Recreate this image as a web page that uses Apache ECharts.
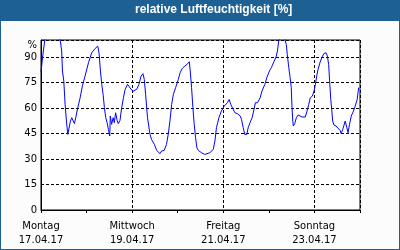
<!DOCTYPE html>
<html>
<head>
<meta charset="utf-8">
<script src="https://cdn.jsdelivr.net/npm/echarts@6/dist/echarts.min.js"></script>
<style>
  html, body { margin: 0; padding: 0; background: #fbfcfb; }
  #main { width: 398px; height: 248px; border: 1px solid #1c6094; }
</style>
</head>
<body>
<div id="main"></div>
<script>
// hours since Mon 17.04.17 00:00
var hours = [0, 0.8, 2.1, 6.0, 10.0, 10.9, 11.3, 12.0, 12.7, 13.4, 14.1, 15.1, 15.5, 16.2, 16.9, 17.6, 18.3, 19.3, 20.6, 21.8,
  23.2, 25.0, 26.7, 28.5, 29.9, 30.6, 31.3, 32.0, 32.7, 33.4, 34.1, 34.8, 35.5, 36.2, 36.5, 37.2, 38.0, 38.6, 39.3, 40.1,
  40.7, 41.6, 42.5, 43.4, 44.3, 45.6, 46.5, 47.4, 48.6, 49.5, 50.4, 51.6, 52.7, 53.7, 54.4, 55.1, 56.1, 57.4, 58.2, 59.7,
  60.9, 62.7, 63.5, 64.9, 66.1, 67.0, 67.9, 68.8, 69.7, 70.9, 72.3, 73.3, 74.4, 75.8, 77.2, 78.1, 78.6, 79.3, 80.0, 80.7,
  81.4, 82.1, 82.8, 84.5, 86.3, 87.2, 88.9, 90.7, 91.6, 92.4, 93.7, 95.0, 96.5, 98.2, 99.1, 100.0, 101.2, 102.1, 103.5, 104.9,
  105.6, 106.5, 107.3, 108.4, 109.1, 110.1, 111.2, 112.2, 112.9, 114.0, 115.4, 116.4, 117.9, 118.9, 120.3, 121.3, 122.8, 123.8, 124.5, 125.2,
  126.4, 128.0, 129.2, 129.7, 130.5, 131.2, 131.8, 132.2, 132.6, 132.9, 133.6, 134.5, 135.4, 136.4, 137.5, 138.5, 139.2, 140.1, 141.0, 141.8,
  142.9, 143.8, 144.5, 145.2, 145.9, 146.9, 148.0, 149.0, 150.1, 150.8, 151.5, 152.0, 152.6, 153.1, 153.6, 154.3, 155.4, 156.4, 157.5, 158.1,
  158.9, 159.6, 160.2, 161.0, 161.7, 162.5, 163.4, 164.4, 165.5, 166.5, 167.3];
var humidity = [81, 89.6, 101, 105, 101, 93.5, 81.8, 75.9, 62, 52.3, 44.5, 43.9, 52.3, 54.3, 55.3, 50.8, 54.3, 59.8, 66, 73,
  78.8, 86.6, 92.5, 95, 96.4, 92, 81.8, 73.9, 68, 60.2, 54.3, 51.4, 47.4, 43.5, 55.3, 50.4, 54.3, 51.4, 57.2, 52.7,
  50.8, 52.7, 60.2, 66, 71, 73.9, 73.5, 71, 70, 69, 71, 73.9, 78.8, 80.2, 76.8, 68, 54.3, 44.5, 41.5, 38.6,
  35.1, 33.1, 34.7, 35.1, 38.6, 44.5, 52.3, 62, 68, 72, 76.8, 80.8, 83.3, 84.7, 86, 87.2, 81.8, 72, 60.2, 50.4,
  42.5, 36.6, 35.1, 33.7, 32.7, 31.8, 33.7, 35.6, 40.6, 48.4, 54.3, 58.2, 61.2, 63.1, 65, 62, 59.2, 57.2, 56.6, 55.3,
  53.3, 48.4, 44.5, 44.5, 48.4, 51.4, 54.3, 59.2, 63.1, 63.1, 66, 70, 73.9, 77.8, 81.8, 83.7, 87.6, 90, 93.5, 99.4,
  102, 102, 97.4, 91.5, 83.7, 77.8, 72, 60.2, 52.3, 49.4, 50.8, 54.3, 55.9, 55.9, 54.7, 53.9, 54.7, 58.2, 62, 66,
  67, 70, 73.9, 78.8, 82.7, 86.6, 90, 92, 92.5, 90.6, 85.6, 75.9, 65, 59.2, 52.3, 50, 49.4, 48.4, 46.8, 44.9,
  47.4, 50, 52.3, 48.8, 45.5, 50.4, 55.3, 57.8, 61.2, 65, 72];
var dayNames = ['Montag', 'Dienstag', 'Mittwoch', 'Donnerstag', 'Freitag', 'Samstag', 'Sonntag', 'Montag'];
var dayDates = ['17.04.17', '18.04.17', '19.04.17', '20.04.17', '21.04.17', '22.04.17', '23.04.17', '24.04.17'];
var titleText = 'relative Luftfeuchtigkeit [%]';

var points = hours.map(function (h, i) { return [h, humidity[i]]; });
var dash = { color: '#000', type: [3, 2], width: 1 };
var font = 'DejaVu Sans';

var chart = echarts.init(document.getElementById('main'));
chart.setOption({
  animation: false,
  backgroundColor: '#fbfcfb',
  graphic: [{
    type: 'rect', left: 0, top: 0, z: 0,
    shape: { width: 400, height: 20 },
    style: { fill: '#1c6094' }
  }],
  title: {
    text: titleText, left: 134, top: 3, padding: 0,
    textStyle: { color: '#fff', fontFamily: 'Liberation Sans', fontWeight: 'bold', fontSize: 12 }
  },
  grid: { left: 40, right: 39, top: 39, bottom: 39, show: true, borderColor: '#000', borderWidth: 1, backgroundColor: '#fff' },
  xAxis: [{
    type: 'value', min: 0, max: 168, interval: 24,
    axisLine: { lineStyle: { color: '#000' } },
    axisTick: { length: 3, lineStyle: { color: '#000' } },
    splitLine: { show: false },
    axisLabel: {
      color: '#000', fontFamily: font, fontSize: 10, margin: 9, lineHeight: 14,
      formatter: function (v) { return v % 48 === 0 && v < 168 ? dayNames[v / 24] + '\n' + dayDates[v / 24] : ''; }
    }
  }, {
    type: 'value', min: 0, max: 168, interval: 48, position: 'bottom',
    axisLine: { show: false }, axisTick: { show: false }, axisLabel: { show: false },
    splitLine: { show: true, lineStyle: dash }
  }],
  yAxis: {
    type: 'value', min: 0, max: 100, interval: 15,
    axisLine: { show: true, lineStyle: { color: '#000' } },
    axisTick: { show: false },
    splitLine: { lineStyle: dash },
    axisLabel: {
      color: '#000', fontFamily: font, fontSize: 10, margin: 4,
      showMaxLabel: true,
      formatter: function (v) { return v === 100 ? '{p|%}' : String(v); },
      rich: { p: { fontFamily: font, fontSize: 10, color: '#000', padding: [11, 0, 0, 0] } }
    }
  },
  series: [{
    type: 'line', data: points, showSymbol: false, clip: true,
    lineStyle: { color: '#0000ff', width: 1 }, z: 5
  }]
});
</script>
</body>
</html>
